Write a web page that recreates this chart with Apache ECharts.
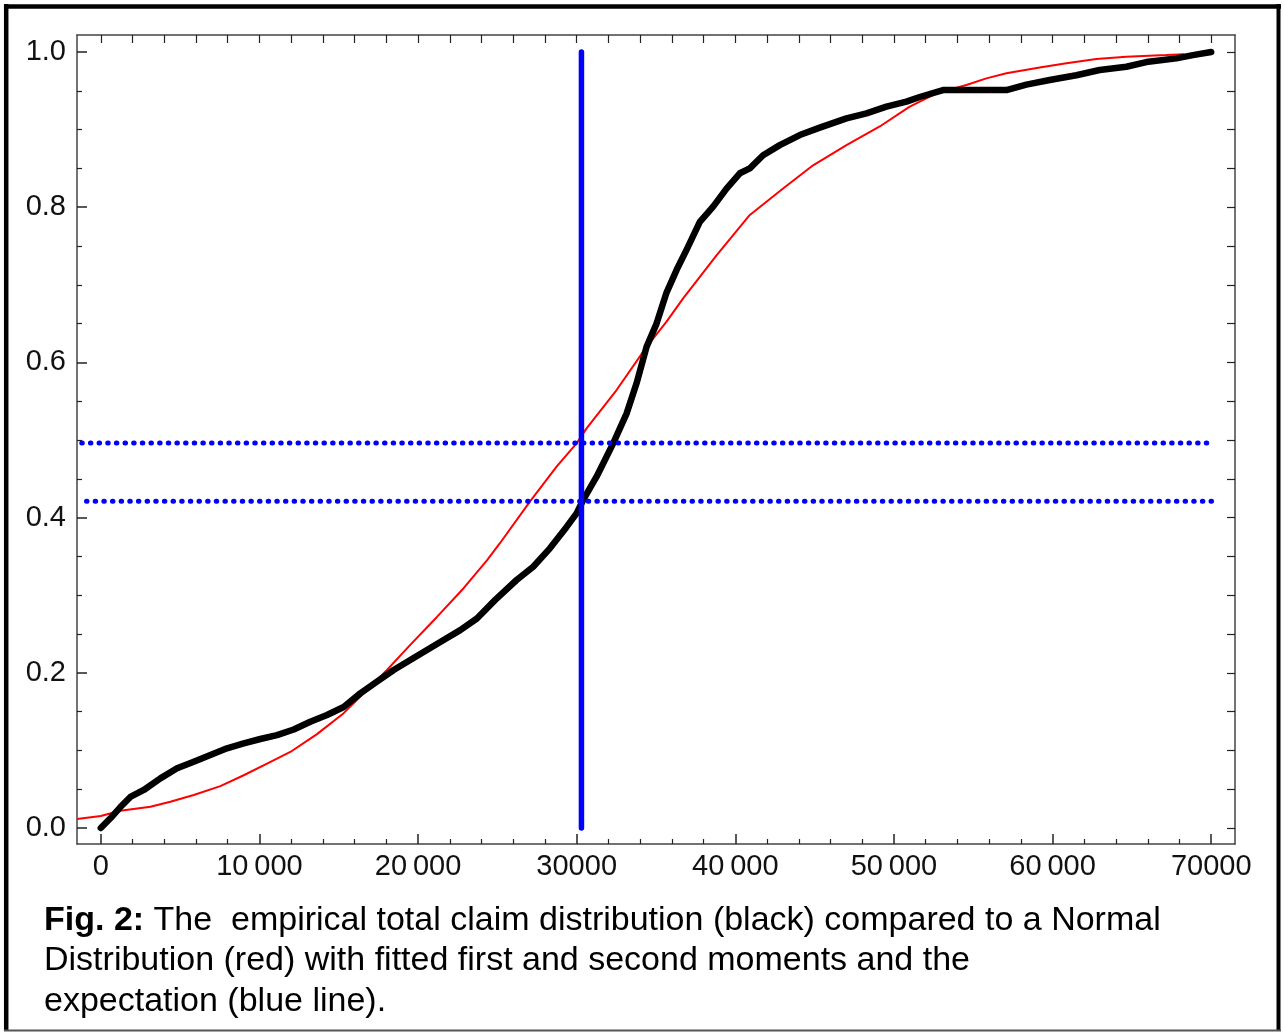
<!DOCTYPE html>
<html>
<head>
<meta charset="utf-8">
<style>
  html, body { margin: 0; padding: 0; background: #fff; }
  #chart { width: 1284px; height: 1032px; }
</style>
<script src="https://cdn.jsdelivr.net/npm/echarts@6.0.0/dist/echarts.min.js"></script>
</head>
<body>
<div id="chart"></div>
<script>
// empirical total claim distribution (black)
const empX = [0, 605, 1235, 1865, 2710, 3756, 4808, 5860, 6906, 7958, 9010, 10057, 11109, 12161, 13207, 14259, 15311, 16358, 17410, 18462,
  19508, 20560, 21613, 22659, 23711, 24865, 26213, 27259, 28312, 29364, 29993, 30410, 31254, 32300, 33144, 33774, 34405, 35035, 35665, 36295,
  36925, 37763, 38602, 39446, 40284, 40914, 41752, 42804, 44064, 45324, 47007, 48267, 49527, 50788, 51626, 53094, 54566, 57089, 58349, 59817,
  61500, 62968, 64650, 65911, 67801, 68847, 70000];
const empY = [0, 0.0125, 0.027, 0.040, 0.049, 0.064, 0.077, 0.0855, 0.094, 0.1027, 0.109, 0.1147, 0.1198, 0.127, 0.137, 0.1456, 0.156, 0.1735, 0.1886, 0.2036,
  0.2165, 0.2294, 0.2423, 0.255, 0.270, 0.294, 0.3196, 0.3367, 0.3604, 0.388, 0.4055, 0.4227, 0.4527, 0.4957, 0.534, 0.573, 0.620, 0.650, 0.690, 0.719,
  0.745, 0.781, 0.8007, 0.824, 0.8437, 0.850, 0.867, 0.880, 0.893, 0.9025, 0.9145, 0.921, 0.9295, 0.936, 0.942, 0.951, 0.951, 0.951, 0.958, 0.9639,
  0.970, 0.9768, 0.981, 0.987, 0.9918, 0.996, 1.0];

// fitted normal distribution (red)
const nrmX = [-1500, 0, 1235, 3125, 4385, 5860, 7536, 9010, 10479, 11947, 13629, 15311, 16572, 18040, 19508, 21191, 22873, 24342, 25160, 27050,
  28733, 29993, 30624, 32514, 34405, 35665, 36711, 38815, 40914, 43011, 44903, 47007, 49106, 50996, 52678, 54566, 55827, 57089, 59187, 60869,
  62760, 64650, 67171, 68300];
const nrmY = [0.0116, 0.0155, 0.0223, 0.0275, 0.0339, 0.0425, 0.054, 0.068, 0.083, 0.098, 0.121, 0.148, 0.1735, 0.2036, 0.236, 0.272, 0.309, 0.345, 0.367, 0.4205,
  0.4656, 0.4957, 0.515, 0.5644, 0.620, 0.6525, 0.6826, 0.738, 0.790, 0.824, 0.854, 0.880, 0.904, 0.9295, 0.9467, 0.9575, 0.966, 0.9726, 0.980, 0.9854,
  0.991, 0.994, 0.996, 0.997];

// expectation and the two reference levels (blue)
const meanX = 30300;
const levelUpper = 0.496;
const levelLower = 0.421;
const upperSpan = [-1200, 69950];
const lowerSpan = [-900, 70200];

// ticks
const xMajor = [0, 10000, 20000, 30000, 40000, 50000, 60000, 70000];
const xMajorLabels = ['0', '10\u2009000', '20\u2009000', '30000', '40\u2009000', '50\u2009000', '60\u2009000', '70000'];
const xMinor = [2000, 4000, 6000, 8000, 12000, 14000, 16000, 18000, 22000, 24000, 26000, 28000, 32000, 34000, 36000, 38000,
  42000, 44000, 46000, 48000, 52000, 54000, 56000, 58000, 62000, 64000, 66000, 68000];
const xAll = [0, 2000, 4000, 6000, 8000, 10000, 12000, 14000, 16000, 18000, 20000, 22000, 24000, 26000, 28000, 30000, 32000, 34000, 36000,
  38000, 40000, 42000, 44000, 46000, 48000, 50000, 52000, 54000, 56000, 58000, 60000, 62000, 64000, 66000, 68000, 70000];
const yMajor = [0, 0.2, 0.4, 0.6, 0.8, 1.0];
const yMinor = [0.05, 0.1, 0.15, 0.25, 0.3, 0.35, 0.45, 0.5, 0.55, 0.65, 0.7, 0.75, 0.85, 0.9, 0.95];
const yAll = [0, 0.05, 0.1, 0.15, 0.2, 0.25, 0.3, 0.35, 0.4, 0.45, 0.5, 0.55, 0.6, 0.65, 0.7, 0.75, 0.8, 0.85, 0.9, 0.95, 1.0];

const caption = '{b|Fig. 2:} The  empirical total claim distribution (black) compared to a Normal\n' +
  'Distribution (red) with fitted first and second moments and the\n' +
  'expectation (blue line).';

(function () {
  const myChart = echarts.init(document.getElementById('chart'), null, { renderer: 'canvas' });
  const font = '"Liberation Sans", Arial, Helvetica, sans-serif';
  const axisColor = '#444';
  const xMin = -1500, xMax = 71500;
  const yMin = -0.0206, yMax = 1.0219;

  const zip = (xs, ys) => xs.map((x, i) => [x, ys[i]]);

  const xBase = {
    type: 'value', min: xMin, max: xMax, gridIndex: 0,
    splitLine: { show: false }
  };
  const yBase = {
    type: 'value', min: yMin, max: yMax, gridIndex: 0,
    splitLine: { show: false }
  };

  const option = {
    backgroundColor: '#fff',
    animation: false,
    grid: { left: 77, top: 35, width: 1158, height: 809 },
    xAxis: [
      {
        ...xBase,
        position: 'bottom',
        axisLine: { show: true, onZero: false, lineStyle: { color: axisColor, width: 1.5 } },
        axisTick: { show: true, inside: true, length: 10, customValues: xMajor, lineStyle: { color: '#222', width: 1.5 } },
        axisLabel: {
          customValues: xMajor, margin: 8, color: '#111', fontSize: 29, fontFamily: font,
          formatter: (v) => xMajorLabels[xMajor.indexOf(v)] ?? ''
        }
      },
      {
        ...xBase,
        position: 'bottom',
        axisLine: { show: false, onZero: false },
        axisTick: { show: true, inside: true, length: 5, customValues: xMinor, lineStyle: { color: '#222', width: 1.2 } },
        axisLabel: { show: false }
      },
      {
        ...xBase,
        position: 'top',
        axisLine: { show: true, onZero: false, lineStyle: { color: axisColor, width: 1.5 } },
        axisTick: { show: true, inside: true, length: 8, customValues: xAll, lineStyle: { color: '#222', width: 1.2 } },
        axisLabel: { show: false }
      }
    ],
    yAxis: [
      {
        ...yBase,
        position: 'left',
        axisLine: { show: true, onZero: false, lineStyle: { color: axisColor, width: 1.5 } },
        axisTick: { show: true, inside: true, length: 10, customValues: yMajor, lineStyle: { color: '#222', width: 1.5 } },
        axisLabel: {
          customValues: yMajor, margin: 11, color: '#111', fontSize: 29, fontFamily: font,
          formatter: (v) => v.toFixed(1)
        }
      },
      {
        ...yBase,
        position: 'left',
        axisLine: { show: false, onZero: false },
        axisTick: { show: true, inside: true, length: 5, customValues: yMinor, lineStyle: { color: '#222', width: 1.2 } },
        axisLabel: { show: false }
      },
      {
        ...yBase,
        position: 'right',
        axisLine: { show: true, onZero: false, lineStyle: { color: axisColor, width: 1.5 } },
        axisTick: { show: true, inside: true, length: 8, customValues: yAll, lineStyle: { color: '#222', width: 1.2 } },
        axisLabel: { show: false }
      }
    ],
    series: [
      {
        name: 'Normal',
        type: 'line',
        data: zip(nrmX, nrmY),
        showSymbol: false,
        lineStyle: { color: '#ff0000', width: 2 },
        z: 2
      },
      {
        name: 'empirical',
        type: 'line',
        data: zip(empX, empY),
        showSymbol: false,
        lineStyle: { color: '#000', width: 6.5, cap: 'round', join: 'round' },
        z: 3
      },
      {
        name: 'upper level',
        type: 'line',
        data: zip(upperSpan, [levelUpper, levelUpper]),
        showSymbol: false,
        lineStyle: { color: '#0000ff', width: 5, type: [0.5, 8.15], cap: 'round' },
        z: 4
      },
      {
        name: 'lower level',
        type: 'line',
        data: zip(lowerSpan, [levelLower, levelLower]),
        showSymbol: false,
        lineStyle: { color: '#0000ff', width: 5, type: [0.5, 8.15], cap: 'round' },
        z: 4
      },
      {
        name: 'expectation',
        type: 'line',
        data: zip([meanX, meanX], [0, 1]),
        showSymbol: false,
        lineStyle: { color: '#0000ff', width: 5.5, cap: 'round' },
        z: 5
      }
    ],
    graphic: [
      // outer frame
      { type: 'line', shape: { x1: 4, y1: 6.5, x2: 1281, y2: 6.5 }, style: { stroke: '#000', lineWidth: 4.5 } },
      { type: 'line', shape: { x1: 6.2, y1: 4, x2: 6.2, y2: 1031 }, style: { stroke: '#000', lineWidth: 4.5 } },
      { type: 'line', shape: { x1: 1278.5, y1: 4, x2: 1278.5, y2: 1031 }, style: { stroke: '#000', lineWidth: 4 } },
      { type: 'line', shape: { x1: 4, y1: 1030.5, x2: 1281, y2: 1030.5 }, style: { stroke: '#555', lineWidth: 2 } },
      {
        type: 'text',
        left: 44,
        top: 900,
        style: {
          text: caption,
          fill: '#000',
          fontSize: 34,
          fontFamily: font,
          lineHeight: 40.5,
          rich: {
            b: { fontWeight: 'bold', fontSize: 34, fontFamily: font, fill: '#000', lineHeight: 40.5 }
          }
        }
      }
    ]
  };
  myChart.setOption(option);

  window.addEventListener('resize', () => {
    myChart.resize();
  });
})();
</script>
</body>
</html>
